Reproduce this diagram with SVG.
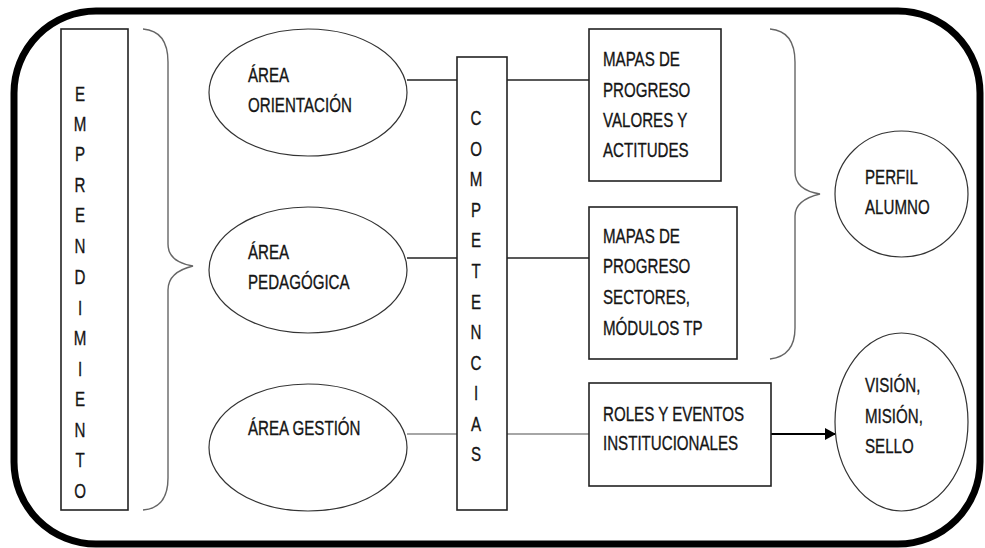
<svg xmlns="http://www.w3.org/2000/svg" width="985" height="548" viewBox="0 0 985 548">
<defs>
<style>
.t{font-family:"Liberation Sans",Arial,sans-serif;font-size:21px;fill:#151515;stroke:#151515;stroke-width:0.35}
.v{text-anchor:middle}
.box{fill:#fff;stroke:#222;stroke-width:1.6}
.ell{fill:#fff;stroke:#333;stroke-width:1.2}
.ln{stroke:#222;stroke-width:1.5;fill:none}
.lg{stroke:#888;stroke-width:1.5;fill:none}
.br{stroke:#666;stroke-width:1.4;fill:none}
</style>
<marker id="ah" markerWidth="11" markerHeight="12" refX="10" refY="6" orient="auto" markerUnits="userSpaceOnUse">
<path d="M0,0 L11,6 L0,12 Z" fill="#000"/>
</marker>
</defs>
<rect width="985" height="548" fill="#fff"/>
<rect x="14" y="11" width="966" height="533" rx="82" ry="82" fill="none" stroke="#000" stroke-width="7"/>

<g id="connectors">
<path class="ln" d="M407,80 H457"/>
<path class="ln" d="M507,80 H589"/>
<path class="ln" d="M407,258 H457"/>
<path class="ln" d="M507,258 H589"/>
<path class="lg" d="M407,434 H457"/>
<path class="lg" d="M507,434 H589"/>
<path d="M771,434 H835" stroke="#000" stroke-width="2.2" fill="none" marker-end="url(#ah)"/>
<path id="brace-left" class="br" d="M143,29 Q168,31 168,62 L168,244 Q168,262 193,266 Q168,272 168,290 L168,478 Q168,508 143,510"/>
<path id="brace-right" class="br" d="M770,29 Q795,31 795,62 L795,172 Q795,190 820,194 Q795,200 795,216 L795,328 Q795,356 770,359"/>
</g>

<g id="emprendimiento">
<rect class="box" x="61" y="29" width="67" height="481"/>
<text class="t v" transform="translate(80,0) scale(0.72,1)"><tspan x="0" y="101">E</tspan><tspan x="0" y="131">M</tspan><tspan x="0" y="161">P</tspan><tspan x="0" y="192">R</tspan><tspan x="0" y="222">E</tspan><tspan x="0" y="253">N</tspan><tspan x="0" y="284">D</tspan><tspan x="0" y="315">I</tspan><tspan x="0" y="345">M</tspan><tspan x="0" y="376">I</tspan><tspan x="0" y="406">E</tspan><tspan x="0" y="437">N</tspan><tspan x="0" y="467">T</tspan><tspan x="0" y="498">O</tspan></text>
</g>

<g id="area-orientacion">
<ellipse class="ell" cx="308" cy="92.5" rx="99" ry="63.5"/>
<text class="t" transform="translate(248,0) scale(0.72,1)"><tspan x="0" y="82">ÁREA</tspan><tspan x="0" y="112">ORIENTACIÓN</tspan></text>
</g>

<g id="area-pedagogica">
<ellipse class="ell" cx="308" cy="270" rx="99" ry="63"/>
<text class="t" transform="translate(248,0) scale(0.72,1)"><tspan x="0" y="259">ÁREA</tspan><tspan x="0" y="289">PEDAGÓGICA</tspan></text>
</g>

<g id="area-gestion">
<ellipse class="ell" cx="308" cy="447.5" rx="99" ry="63.5"/>
<text class="t" transform="translate(248,0) scale(0.72,1)" x="0" y="435">ÁREA GESTIÓN</text>
</g>

<g id="competencias">
<rect class="box" x="457" y="57" width="50" height="453"/>
<text class="t v" transform="translate(476,0) scale(0.72,1)"><tspan x="0" y="125">C</tspan><tspan x="0" y="156">O</tspan><tspan x="0" y="186">M</tspan><tspan x="0" y="217">P</tspan><tspan x="0" y="247">E</tspan><tspan x="0" y="278">T</tspan><tspan x="0" y="309">E</tspan><tspan x="0" y="339">N</tspan><tspan x="0" y="370">C</tspan><tspan x="0" y="400">I</tspan><tspan x="0" y="431">A</tspan><tspan x="0" y="461">S</tspan></text>
</g>

<g id="mapas-valores">
<rect class="box" x="589" y="29" width="132" height="152"/>
<text class="t" transform="translate(603,0) scale(0.72,1)"><tspan x="0" y="66">MAPAS DE</tspan><tspan x="0" y="97">PROGRESO</tspan><tspan x="0" y="127">VALORES Y</tspan><tspan x="0" y="157">ACTITUDES</tspan></text>
</g>

<g id="mapas-sectores">
<rect class="box" x="589" y="207" width="148" height="152"/>
<text class="t" transform="translate(603,0) scale(0.72,1)"><tspan x="0" y="243">MAPAS DE</tspan><tspan x="0" y="273">PROGRESO</tspan><tspan x="0" y="304">SECTORES,</tspan><tspan x="0" y="335">MÓDULOS TP</tspan></text>
</g>

<g id="roles">
<rect class="box" x="589" y="383" width="182" height="103"/>
<text class="t" transform="translate(603,0) scale(0.72,1)"><tspan x="0" y="421">ROLES Y EVENTOS</tspan><tspan x="0" y="450">INSTITUCIONALES</tspan></text>
</g>

<g id="perfil">
<ellipse class="ell" cx="901.5" cy="194" rx="66.5" ry="63"/>
<text class="t" transform="translate(865,0) scale(0.72,1)"><tspan x="0" y="184">PERFIL</tspan><tspan x="0" y="214">ALUMNO</tspan></text>
</g>

<g id="vision">
<ellipse class="ell" cx="901.5" cy="422" rx="66.5" ry="89"/>
<text class="t" transform="translate(865,0) scale(0.72,1)"><tspan x="0" y="392">VISIÓN,</tspan><tspan x="0" y="423">MISIÓN,</tspan><tspan x="0" y="453">SELLO</tspan></text>
</g>
</svg>
